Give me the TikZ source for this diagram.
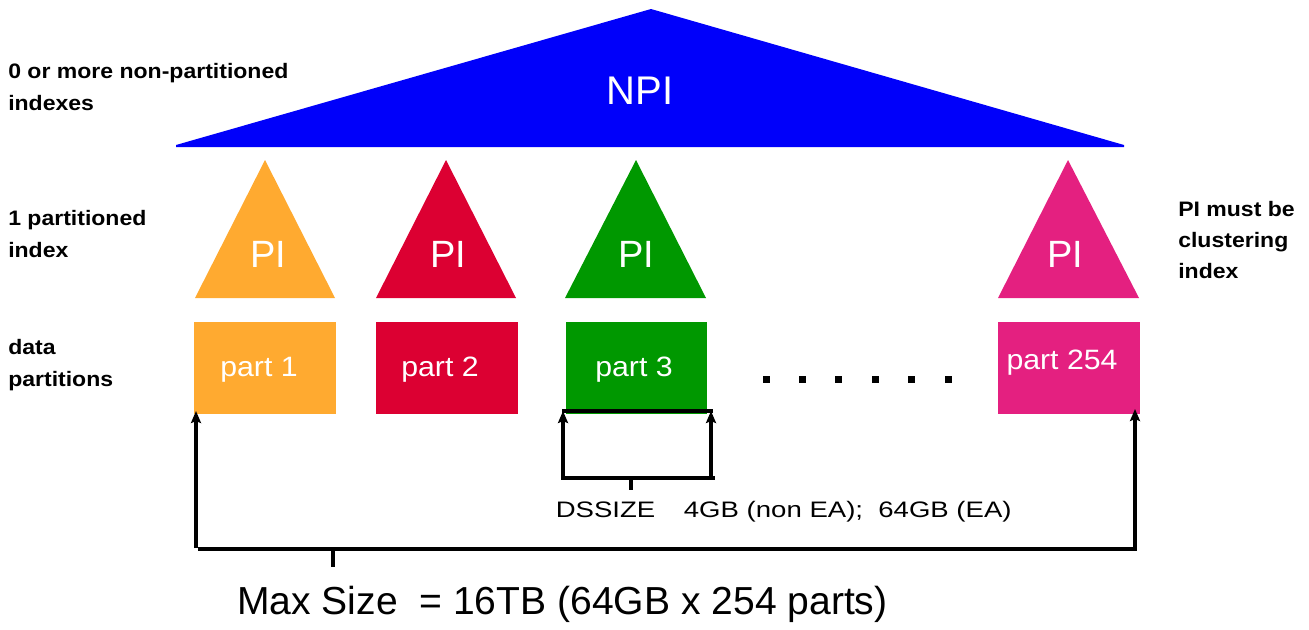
\documentclass[tikz,border=0pt]{standalone}
\usepackage{fontspec}
\setmainfont{Liberation Sans}
\newfontfamily\labelfont[FakeStretch=1.1]{Liberation Sans}
\newfontfamily\partfont[FakeStretch=1.08]{Liberation Sans}
\newfontfamily\dsfont[FakeStretch=1.23]{Liberation Sans}
\usetikzlibrary{arrows.meta}
\definecolor{npiblue}{RGB}{0,0,250}
\definecolor{porange}{RGB}{255,170,48}
\definecolor{pred}{RGB}{220,0,50}
\definecolor{pgreen}{RGB}{0,152,0}
\definecolor{ppink}{RGB}{228,32,128}
\tikzset{
  sidelabel/.style={anchor=west,align=left,inner sep=0pt,
    font=\labelfont\fontsize{15.7pt}{23.5pt}\selectfont\bfseries},
  pilabel/.style={text=white,font=\fontsize{28.5pt}{32pt}\selectfont},
  partlabel/.style={text=white,font=\partfont\fontsize{21pt}{25pt}\selectfont},
  bracket/.style={line width=2.3pt,line cap=rect},
  uparrow/.style={line width=2.3pt,-{Stealth[length=9pt,width=7.5pt,inset=1.5pt]}},
}
\begin{document}
\begin{tikzpicture}[x=0.75pt,y=-0.75pt]
\useasboundingbox (0,0) rectangle (1309,629);

% non-partitioned index
\fill[npiblue] (651,9) -- (1124,145) -- (1124,147) -- (176,147) -- (176,145) -- cycle;
\node[text=white,font=\fontsize{30pt}{34pt}\selectfont] (npi) at (640,91) {NPI};

% partitioned index triangles
\fill[porange] (265,160) -- (335,298) -- (195,298) -- cycle;
\fill[pred]    (446,160) -- (516,298) -- (376,298) -- cycle;
\fill[pgreen]  (636,160) -- (706,298) -- (565,298) -- cycle;
\fill[ppink]   (1068,160) -- (1139,298) -- (998,298) -- cycle;
\node[pilabel] (pi1) at (268,254) {PI};
\node[pilabel] (pi2) at (448,254) {PI};
\node[pilabel] (pi3) at (636,254) {PI};
\node[pilabel] (pi4) at (1065,254) {PI};

% data partitions
\fill[porange] (194,322) rectangle (336,414);
\fill[pred]    (376,322) rectangle (518,414);
\fill[pgreen]  (566,322) rectangle (707,414);
\fill[ppink]   (998,322) rectangle (1140,414);
\node[partlabel] (p1) at (259,370) {part 1};
\node[partlabel] (p2) at (440,370) {part 2};
\node[partlabel] (p3) at (634,370) {part 3};
\node[partlabel] (p4) at (1062,363) {part 254};

% ellipsis between partitions
\foreach \i in {0,...,5}
  \fill (766+36.4*\i-3.5,379-3.5) rectangle ++(7,7);

% side labels
\node[sidelabel] (lnpi) at (8,87) {0 or more non-partitioned\\indexes};
\node[sidelabel] (lpi) at (8,234) {1 partitioned\\index};
\node[sidelabel] (ldata) at (8,365) {data\\partitions};
\node[sidelabel] (lclust) at (1178,240) {PI must be\\clustering\\index};

% data set size bracket
\coordinate (dsl) at (563,478);
\coordinate (dsr) at (711,478);
\coordinate (dslt) at (563,411);
\coordinate (dsrt) at (711,411);
\coordinate (dstick) at (631,478);
\draw[line width=2.3pt] (562,411) -- (713,411);
\draw[bracket] (dsl) -- (713,478);
\draw[uparrow] (dsl) -- (dslt);
\draw[uparrow] (dsr) -- (dsrt);
\draw[line width=2.3pt] (dstick) -- ++(0,12) coordinate (dstickend);
\node[anchor=west,inner sep=0pt,font=\dsfont\fontsize{16.8pt}{20pt}\selectfont] (dssize) at (555.5,512)
  {DSSIZE\hspace{10pt}~ 4GB (non EA);~ 64GB (EA)};

% maximum size bracket
\coordinate (msl) at (196,548);
\coordinate (msr) at (1135,549);
\coordinate (mslt) at (196,411);
\coordinate (msrt) at (1135,409);
\coordinate (mstick) at (333,549);
\draw[bracket] (200,549) -- (msr);
\draw[uparrow] (msl) -- (mslt);
\draw[uparrow] (msr) -- (msrt);
\draw[line width=2.3pt] (mstick) -- ++(0,18) coordinate (mstickend);
\node[anchor=west,inner sep=0pt,font=\fontsize{29.3pt}{33pt}\selectfont] (maxsize) at (237,604)
  {Max Size~ = 16TB (64GB x 254 parts)};
\end{tikzpicture}
\end{document}
